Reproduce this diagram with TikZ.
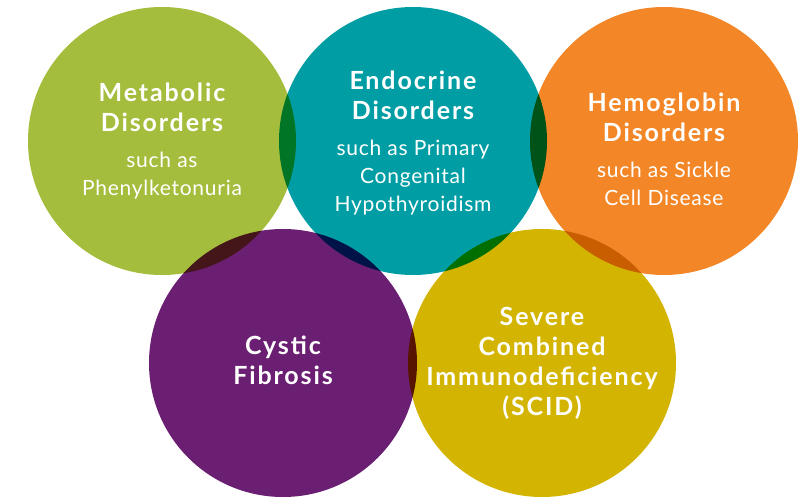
\documentclass[tikz,border=0pt]{standalone}
\usepackage{fontspec}
\setmainfont{Lato}[LetterSpace=3.5]
\newfontfamily\ttlfont{Lato}[LetterSpace=7.5]
\usetikzlibrary{positioning}

\definecolor{metabgreen}{HTML}{A4BD3C}
\definecolor{endoteal}{HTML}{009EA4}
\definecolor{hemoorange}{HTML}{F38626}
\definecolor{cfpurple}{HTML}{6A1F72}
\definecolor{scidgold}{HTML}{D3B400}

\newcommand{\ttl}[1]{{\ttlfont\fontsize{25}{30}\selectfont\bfseries #1}}

\begin{document}
\begin{tikzpicture}[x=1pt, y=-1pt, node distance=251pt,
                    disc/.style={circle,inner sep=0pt,minimum size=268pt},
                    disc text/.style={text=white,align=center,inner sep=0pt,
                                      font=\fontsize{21}{28}\selectfont}]
  \useasboundingbox (0,0) rectangle (801,498);

  % the circles, overlaps come from multiply
  \begin{scope}[blend mode=multiply]
    \node[disc,fill=metabgreen] (metab) at (162,141) {};
    \node[disc,fill=endoteal] (endo) [right of=metab] {};
    \node[disc,fill=hemoorange] (hemo) [right of=endo] {};
    \node[disc,fill=cfpurple] (cf) at (283,363) {};
    \node[disc,fill=scidgold] (scid) [right of=cf, node distance=259pt] {};
  \end{scope}

  % the texts
  \node[disc text] (metablbl) at (metab)
    {\ttl{Metabolic}\\[2pt]\ttl{Disorders}\\[8pt]such as\\Phenylketonuria};
  \node[disc text,yshift=-2pt] (endolbl) at (endo)
    {\ttl{Endocrine}\\[2pt]\ttl{Disorders}\\[8pt]such as Primary\\Congenital\\Hypothyroidism};
  \node[disc text,yshift=-8pt] (hemolbl) at (hemo)
    {\ttl{Hemoglobin}\\[2pt]\ttl{Disorders}\\[8pt]such as Sickle\\Cell Disease};
  \node[disc text,yshift=3pt] (cflbl) at (cf)
    {\ttl{Cystic}\\[2pt]\ttl{Fibrosis}};
  \node[disc text] (scidlbl) at (scid)
    {\ttl{Severe}\\[2pt]\ttl{Combined}\\[2pt]\ttl{Immunodeficiency}\\[2pt]\ttl{(SCID)}};
\end{tikzpicture}
\end{document}
